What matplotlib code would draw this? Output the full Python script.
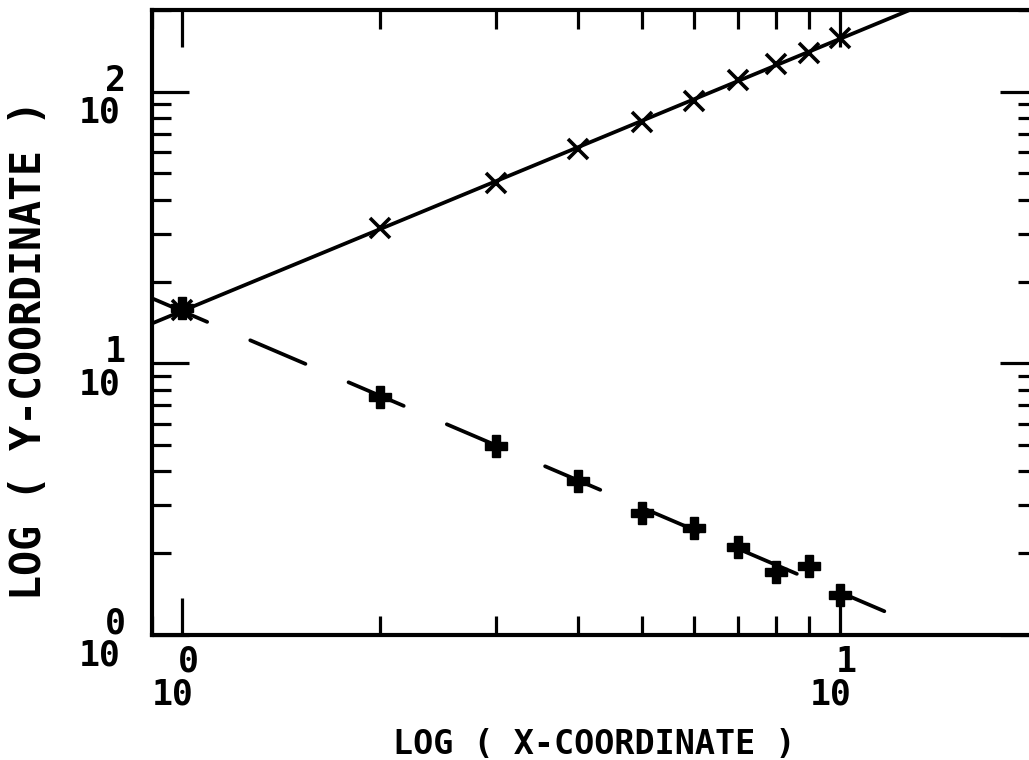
import numpy as np
import matplotlib
matplotlib.use('Agg')
import matplotlib.pyplot as plt

# --- data ---
x_vals = [1, 2, 3, 4, 5, 6, 7, 8, 9, 10]
y_upper = [15.7, 31.4, 46.3, 61.7, 77.6, 92.7, 110.7, 126.8, 139.0, 158.0]
y_lower = [16.0, 7.5, 4.95, 3.68, 2.81, 2.47, 2.11, 1.71, 1.79, 1.40]

x_limits = (0.9, 20.0)
y_limits = (1.0, 200.0)
lower_fit_end = 11.7

x_label_ticks = [1, 10]
x_label_exps = ['0', '1']
y_label_ticks = [1, 10, 100]
y_label_exps = ['0', '1', '2']

FONT = 'DejaVu Sans Mono'
WEIGHT = 'bold'
PX = 0.72  # points per pixel at dpi 100

# --- power-law fits in log space ---
lx = np.log10(x_vals)
b_up, a_up = np.polyfit(lx, np.log10(y_upper), 1)
b_lo, a_lo = np.polyfit(lx, np.log10(y_lower), 1)

xf_up = np.logspace(np.log10(x_limits[0]), np.log10(x_limits[1]), 200)
xf_lo = np.logspace(np.log10(x_limits[0]), np.log10(lower_fit_end), 200)
yf_up = 10 ** (a_up + b_up * np.log10(xf_up))
yf_lo = 10 ** (a_lo + b_lo * np.log10(xf_lo))

# --- figure ---
fig = plt.figure(figsize=(10.29, 7.6), dpi=100)
ax = fig.add_axes([0.1477, 0.1645, 0.8605, 0.8224])
ax.set_xscale('log')
ax.set_yscale('log')
ax.set_xlim(*x_limits)
ax.set_ylim(*y_limits)

ax.plot(xf_up, yf_up, color='black', lw=2.7, solid_capstyle='round')
ax.plot(xf_lo, yf_lo, color='black', lw=2.7, linestyle=(0, (16, 12.5)),
        dash_capstyle='round')
ax.plot(x_vals, y_upper, linestyle='none', marker='x', ms=15, mew=2.6,
        color='black', zorder=4)
ax.plot(x_vals, y_lower, linestyle='none', marker='P', ms=16, mew=1.0,
        color='black', zorder=4)

for s in ax.spines.values():
    s.set_linewidth(3.0)
ax.tick_params(which='both', direction='in', top=True, right=True,
               labelbottom=False, labelleft=False, width=2.3)
ax.tick_params(which='major', length=26.5)
ax.tick_params(which='minor', length=13.5)

# tick labels drawn like the plotter: base and exponent at the same size
for t, e in zip(x_label_ticks, x_label_exps):
    ax.annotate('10', xy=(t, 0), xycoords=('data', 'axes fraction'),
                xytext=(-9 * PX, -70 * PX), textcoords='offset points',
                ha='center', va='baseline', fontsize=25, family=FONT,
                weight=WEIGHT)
    ax.annotate(e, xy=(t, 0), xycoords=('data', 'axes fraction'),
                xytext=(-4 * PX, -37 * PX), textcoords='offset points',
                ha='left', va='baseline', fontsize=25, family=FONT,
                weight=WEIGHT)
for t, e in zip(y_label_ticks, y_label_exps):
    ax.annotate('10', xy=(0, t), xycoords=('axes fraction', 'data'),
                xytext=(-31 * PX, -31 * PX), textcoords='offset points',
                ha='right', va='baseline', fontsize=25, family=FONT,
                weight=WEIGHT)
    ax.annotate(e, xy=(0, t), xycoords=('axes fraction', 'data'),
                xytext=(-47 * PX, 1 * PX), textcoords='offset points',
                ha='left', va='baseline', fontsize=25, family=FONT,
                weight=WEIGHT)

ax.set_xlabel('LOG ( X-COORDINATE )', fontsize=24, family=FONT,
              weight=WEIGHT, va='center')
ax.set_ylabel('LOG ( Y-COORDINATE )', fontsize=30, family=FONT,
              weight=WEIGHT, va='center')
ax.xaxis.set_label_coords(0.5, -0.176)
ax.yaxis.set_label_coords(-0.139, 0.456)

fig.savefig('out.png', dpi=100)
